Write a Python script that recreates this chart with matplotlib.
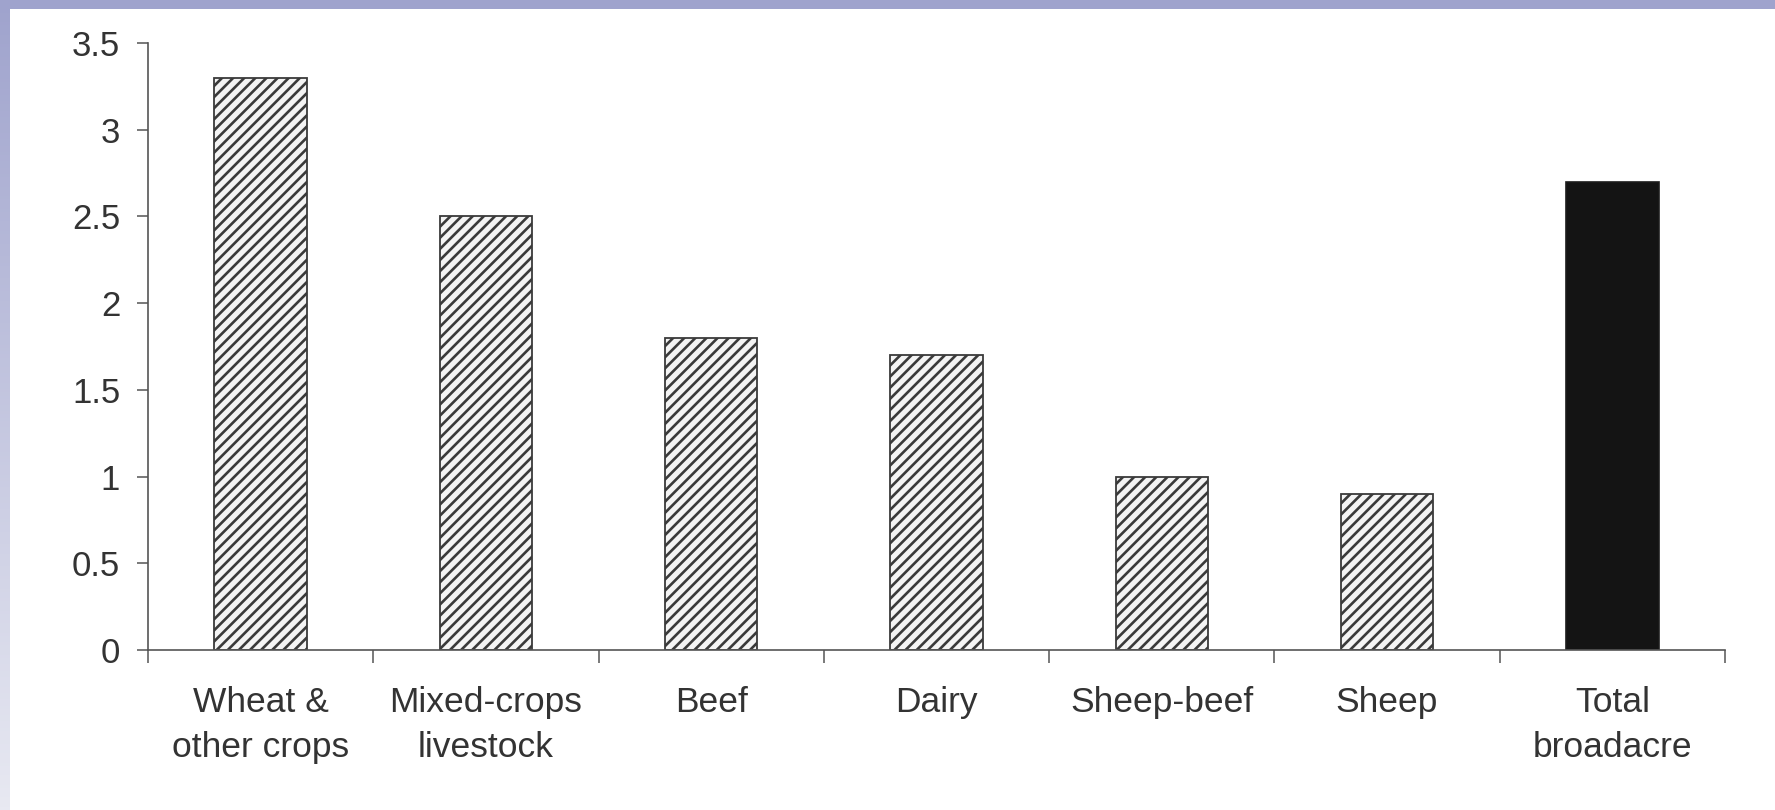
import numpy as np
import matplotlib.pyplot as plt
from matplotlib.patches import Rectangle

# bar chart data
categories = ["Wheat &\nother crops", "Mixed-crops\nlivestock", "Beef", "Dairy",
              "Sheep-beef", "Sheep", "Total\nbroadacre"]
values = [3.3, 2.5, 1.8, 1.7, 1.0, 0.9, 2.7]
is_total = [False, False, False, False, False, False, True]
y_ticks = [0, 0.5, 1, 1.5, 2, 2.5, 3, 3.5]
y_tick_labels = ["0", "0.5", "1", "1.5", "2", "2.5", "3", "3.5"]

plt.rcParams['font.family'] = ['Liberation Sans', 'DejaVu Sans']
plt.rcParams['hatch.linewidth'] = 1.9
plt.rcParams['hatch.color'] = '#262626'

fig = plt.figure(figsize=(17.75, 8.1), dpi=100)
fig.patch.set_facecolor('white')

# slide frame: flat band along the top, fading band down the left side
band = fig.add_axes([0, 0, 10 / 1775, 1])
grad = np.linspace(0, 1, 256).reshape(-1, 1)
top_rgb = np.array([159, 163, 205]) / 255
bot_rgb = np.array([232, 233, 242]) / 255
band.imshow(top_rgb + (bot_rgb - top_rgb) * grad[:, :, None] * np.ones((1, 1, 3)),
            aspect='auto', extent=[0, 1, 0, 1])
band.axis('off')
fig.patches.append(Rectangle((0, 1 - 9 / 810), 1, 9 / 810, transform=fig.transFigure,
                             facecolor=top_rgb, edgecolor='none', zorder=5))

ax = fig.add_axes([148 / 1775, 1 - 650 / 810, (1725 - 148) / 1775, (650 - 43) / 810])
x = np.arange(len(categories))
for xi, v, tot in zip(x, values, is_total):
    if tot:
        ax.bar(xi, v, width=0.41, color='#141414', edgecolor='#1c1c1c', linewidth=1.2)
    else:
        ax.bar(xi, v, width=0.41, color='#f4f4f4', edgecolor='#3a3a3a', linewidth=1.3,
               hatch='///')

ax.set_xlim(-0.5, len(categories) - 0.5)
ax.set_ylim(0, 3.5)
ax.set_yticks(y_ticks)
ax.set_yticklabels(y_tick_labels, fontsize=25, color='#333333')

# category ticks sit on the boundaries between bars
ax.set_xticks(np.arange(len(categories) + 1) - 0.5)
ax.set_xticklabels([])
ax.set_xticks(x, minor=True)
ax.set_xticklabels(categories, minor=True, fontsize=25.5, color='#333333', linespacing=1.45)
ax.tick_params(axis='x', which='minor', length=0, pad=26)
ax.tick_params(axis='x', which='major', length=9, width=1.1, color='#555555', direction='out')
ax.tick_params(axis='y', length=8, width=1.1, color='#555555', pad=12)

for side in ['top', 'right']:
    ax.spines[side].set_visible(False)
for side in ['left', 'bottom']:
    ax.spines[side].set_color('#555555')
    ax.spines[side].set_linewidth(1.2)

fig.savefig('out.png', dpi=100, facecolor='white')
